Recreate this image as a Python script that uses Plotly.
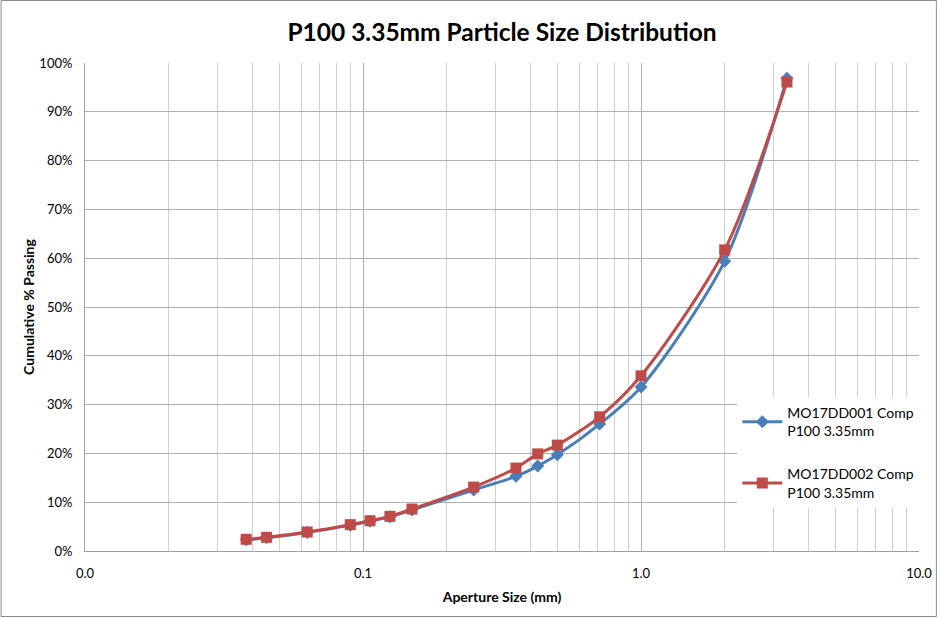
import plotly.graph_objects as go

# Sieve apertures (mm) and cumulative % passing for each composite
aperture_mm = [0.038, 0.045, 0.063, 0.09, 0.106, 0.125, 0.15, 0.25, 0.355, 0.425, 0.5, 0.71, 1.0, 2.0, 3.35]
dd001_passing = [2.3, 2.7, 3.8, 5.3, 6.1, 7.0, 8.4, 12.5, 15.3, 17.4, 19.7, 26.0, 33.6, 59.4, 96.9]
dd002_passing = [2.4, 2.8, 3.9, 5.4, 6.2, 7.1, 8.6, 13.1, 17.0, 19.9, 21.7, 27.5, 35.9, 61.7, 96.1]

series_names = ["MO17DD001 Comp<br>P100 3.35mm", "MO17DD002 Comp<br>P100 3.35mm"]
x_tick_vals = [0.01, 0.1, 1, 10]
x_tick_text = ["0.0", "0.1", "1.0", "10.0"]
y_tick_vals = [0, 10, 20, 30, 40, 50, 60, 70, 80, 90, 100]
y_tick_text = [f"{v}%" for v in y_tick_vals]

FONT = "Lato, 'Open Sans', sans-serif"

fig = go.Figure()
fig.add_trace(go.Scatter(
    x=aperture_mm, y=dd001_passing, name=series_names[0], legendgroup="dd001",
    mode="lines+markers", line=dict(color="#4a7ebb", width=3, shape="spline", smoothing=0.8),
    marker=dict(symbol="diamond", size=10, color="#4a7ebb"),
))
fig.add_trace(go.Scatter(
    x=aperture_mm, y=dd002_passing, name=series_names[1], legendgroup="dd002",
    mode="lines+markers", line=dict(color="#be4b48", width=3, shape="spline", smoothing=0.8),
    marker=dict(symbol="square", size=11, color="#be4b48"),
))

L, R, T, B = 85, 19, 63, 67
W, H = 944, 618
pw, ph = W - L - R, H - T - B

fig.update_layout(
    width=W, height=H,
    margin=dict(l=L, r=R, t=T, b=B),
    paper_bgcolor="white", plot_bgcolor="white",
    font=dict(family=FONT, color="#000000", size=13),
    title=dict(text="<b>P100 3.35mm Particle Size Distribution</b>", x=0.5, xref="paper",
               xanchor="center", y=1 - 32 / H, yanchor="middle",
               font=dict(size=24.5, family=FONT)),
    xaxis=dict(
        type="log", range=[-2, 1], tickvals=x_tick_vals, ticktext=x_tick_text,
        showgrid=True, gridcolor="#b0b0b0", gridwidth=1,
        minor=dict(showgrid=True, gridcolor="#cfcfcf", gridwidth=1, dtick="D1"),
        showline=True, linecolor="#a0a0a0", linewidth=1, ticks="", zeroline=False,
        title=dict(text="<b>Aperture Size (mm)</b>", font=dict(size=14), standoff=12),
        tickfont=dict(size=13), ticklabelstandoff=10,
    ),
    yaxis=dict(
        range=[0, 100], tickvals=y_tick_vals, ticktext=y_tick_text,
        showgrid=True, gridcolor="#b0b0b0", gridwidth=1,
        showline=True, linecolor="#a0a0a0", linewidth=1, ticks="", zeroline=False,
        title=dict(text="<b>Cumulative % Passing</b>", font=dict(size=14), standoff=1),
        tickfont=dict(size=13), ticklabelstandoff=9,
    ),
    legend=dict(
        x=(742 - L) / pw, y=(T + ph - 397) / ph, xanchor="left", yanchor="top",
        bgcolor="white", borderwidth=0, font=dict(size=14, family=FONT),
        traceorder="grouped", tracegroupgap=22, itemwidth=40,
    ),
    showlegend=True,
)

# Outer chart border
fig.add_shape(type="rect", xref="paper", yref="paper",
              x0=-(L - 0.5) / pw, x1=1 + (R - 1.5) / pw,
              y0=-(B - 1.5) / ph, y1=1 + (T - 0.5) / ph,
              line=dict(color="#8c8c8c", width=1), fillcolor="rgba(0,0,0,0)", layer="above")

fig.write_html("out.html")
